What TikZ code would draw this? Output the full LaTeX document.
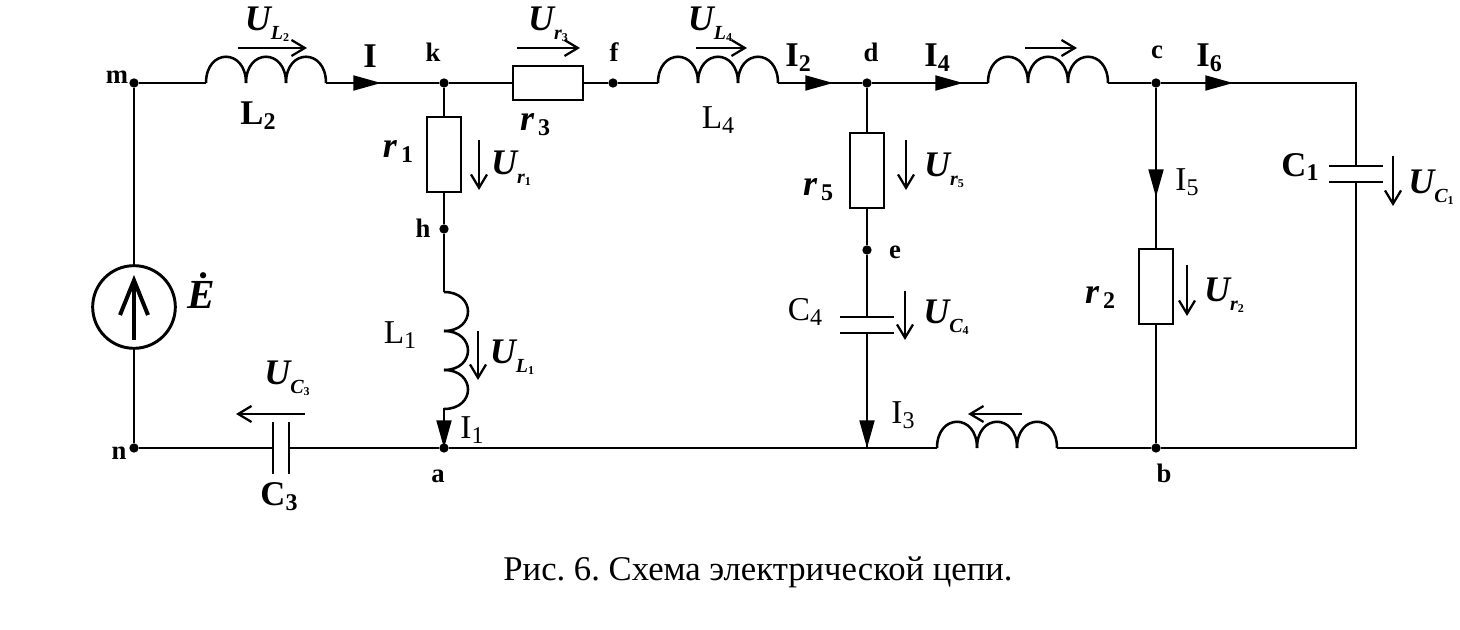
\documentclass[tikz,border=0pt]{standalone}
\usepackage{fontspec}
\setmainfont{Liberation Serif}
\usetikzlibrary{arrows.meta}
\tikzstyle{circuit} = [x = .75pt, y = -.75pt]
\tikzstyle{wireLine} = [color=black, line width=2.2pt]
\tikzstyle{coilLine} = [color=black, line width=1.9pt]
\tikzstyle{plateLine} = [color=black, line width=2.1pt]
\tikzstyle{currentLine} = [wireLine, -{Triangle[length=21pt, width=11pt]}, shorten >=-1pt]
\tikzstyle{voltageLine} = [color=black, line width=1.7pt, -{Straight Barb[length=10pt, width=12pt, line width=1.7pt]}]
\tikzstyle{sourceLine} = [color=black, line width=3pt, -{Straight Barb[length=26pt, width=21pt, line width=3pt]}]
\tikzstyle{resistorH} = [draw, coilLine, fill=white, minimum width=52.5pt, minimum height=25.5pt, inner sep=0pt]
\tikzstyle{resistorV} = [draw, coilLine, fill=white, minimum width=25.5pt, minimum height=56pt, inner sep=0pt]
\tikzstyle{sourceCircle} = [draw, circle, wireLine, minimum size=62pt, inner sep=0pt]
\tikzstyle{junction} = [circle, fill=black, minimum size=7pt, inner sep=0pt]
\tikzstyle{pointText} = [inner sep=0pt, font=\fontsize{20}{20}\selectfont\bfseries]
\tikzstyle{partText} = [inner sep=0pt, font=\fontsize{25}{25}\selectfont]
\tikzstyle{boldPartText} = [inner sep=0pt, font=\fontsize{26}{26}\selectfont\bfseries]
\tikzstyle{voltText} = [inner sep=0pt, font=\fontsize{27}{27}\selectfont\bfseries\itshape]
\tikzstyle{emfText} = [inner sep=0pt, font=\fontsize{31}{31}\selectfont\bfseries\itshape]
\tikzstyle{captionText} = [inner sep=0pt, font=\fontsize{26}{26}\selectfont]
\newcommand{\voltLabel}[2]{U\raisebox{-.55ex}{\fontsize{15}{15}\selectfont #1\raisebox{-.25ex}{\fontsize{9}{9}\selectfont\upshape #2}}}
\newcommand{\partSub}[2]{#1\raisebox{-.3ex}{\fontsize{18}{18}\selectfont #2}}
\newcommand{\horizontalCoil}[3]{
  \coordinate (#1In) at (#2,#3);
  \coordinate (#1Out) at (#2 + 120,#3);
  \foreach \turn in {0,1,2} {
    \pgfmathsetmacro{\var}{#2 + 40 * \turn}
    \draw [coilLine] (\var,#3) .. controls (\var,#3 - 35) and (\var + 40,#3 - 35) .. (\var + 40,#3);
  }
}
\newcommand{\verticalCoil}[3]{
  \coordinate (#1In) at (#2,#3);
  \coordinate (#1Out) at (#2,#3 + 117);
  \foreach \turn in {0,1,2} {
    \pgfmathsetmacro{\var}{#3 + 39 * \turn}
    \draw [coilLine] (#2,\var) .. controls (#2 + 32,\var) and (#2 + 32,\var + 39) .. (#2,\var + 39);
  }
}
\newcommand{\verticalCap}[3]{
  \coordinate (#1Top) at (#2,#3 - 8);
  \coordinate (#1Bottom) at (#2,#3 + 8);
  \draw [plateLine] (#2 - 27,#3 - 8) -- (#2 + 27,#3 - 8);
  \draw [plateLine] (#2 - 27,#3 + 8) -- (#2 + 27,#3 + 8);
}
\newcommand{\horizontalCap}[3]{
  \coordinate (#1Left) at (#2 - 8,#3);
  \coordinate (#1Right) at (#2 + 8,#3);
  \draw [plateLine] (#2 - 8,#3 - 26) -- (#2 - 8,#3 + 26);
  \draw [plateLine] (#2 + 8,#3 - 26) -- (#2 + 8,#3 + 26);
}
\newcommand{\voltageArrow}[5]{
  \coordinate (#1Start) at (#2,#3);
  \coordinate (#1End) at (#4,#5);
  \draw [voltageLine] (#1Start) -- (#1End);
}
\newcommand{\currentArrow}[5]{
  \coordinate (#1Start) at (#2,#3);
  \coordinate (#1End) at (#4,#5);
  \draw [currentLine] (#1Start) -- (#1End);
}
\begin{document}
\begin{tikzpicture}[circuit]
  \useasboundingbox (0,0) rectangle (1460,630);

  % nodes of the circuit
  \node [junction] (m) at (134,83) {};
  \node [junction] (n) at (134,448) {};
  \node [junction] (k) at (444,83) {};
  \node [junction] (h) at (444,229) {};
  \node [junction] (a) at (444,448) {};
  \node [junction] (f) at (613,83) {};
  \node [junction] (d) at (867,83) {};
  \node [junction] (e) at (867,250) {};
  \node [junction] (c) at (1156,83) {};
  \node [junction] (b) at (1156,448) {};
  \coordinate (g) at (867,448);
  \coordinate (topRight) at (1356,83);
  \coordinate (bottomRight) at (1356,448);

  % parts
  \horizontalCoil{coilTwo}{206}{83}
  \horizontalCoil{coilFour}{658}{83}
  \horizontalCoil{coilTop}{988}{83}
  \horizontalCoil{coilBottom}{937}{448}
  \verticalCoil{coilOne}{444}{292}
  \node [resistorH] (rThree) at (548,83) {};
  \node [resistorV] (rOne) at (444,154.5) {};
  \node [resistorV] (rFive) at (867,170.5) {};
  \node [resistorV] (rTwo) at (1156,286.5) {};
  \verticalCap{capOne}{1356}{174}
  \verticalCap{capFour}{867}{325}
  \horizontalCap{capThree}{281}{448}
  \node [sourceCircle] (source) at (134,307) {};

  % wires
  \draw [wireLine] (m) -- (coilTwoIn);
  \draw [wireLine] (coilTwoOut) -- (k);
  \draw [wireLine] (k) -- (rThree);
  \draw [wireLine] (rThree) -- (f);
  \draw [wireLine] (f) -- (coilFourIn);
  \draw [wireLine] (coilFourOut) -- (d);
  \draw [wireLine] (d) -- (coilTopIn);
  \draw [wireLine] (coilTopOut) -- (c);
  \draw [wireLine] (c) -- (topRight) -- (capOneTop);
  \draw [wireLine] (capOneBottom) -- (bottomRight) -- (b);
  \draw [wireLine] (b) -- (coilBottomOut);
  \draw [wireLine] (coilBottomIn) -- (g) -- (a);
  \draw [wireLine] (a) -- (capThreeRight);
  \draw [wireLine] (capThreeLeft) -- (n);
  \draw [wireLine] (n) -- (source);
  \draw [wireLine] (source) -- (m);
  \draw [wireLine] (k) -- (rOne);
  \draw [wireLine] (rOne) -- (h);
  \draw [wireLine] (h) -- (coilOneIn);
  \draw [wireLine] (coilOneOut) -- (a);
  \draw [wireLine] (d) -- (rFive);
  \draw [wireLine] (rFive) -- (e);
  \draw [wireLine] (e) -- (capFourTop);
  \draw [wireLine] (capFourBottom) -- (g);
  \draw [wireLine] (c) -- (rTwo);
  \draw [wireLine] (rTwo) -- (b);

  % currents
  \currentArrow{iMain}{352}{83}{380}{83}
  \currentArrow{iTwo}{804}{83}{832}{83}
  \currentArrow{iFour}{933}{83}{962}{83}
  \currentArrow{iSix}{1203}{83}{1232}{83}
  \currentArrow{iFive}{1156}{165}{1156}{196}
  \currentArrow{iOne}{444}{408}{444}{447}
  \currentArrow{iThree}{867}{405}{867}{447}

  % voltages
  \voltageArrow{uLTwo}{238}{48}{307}{48}
  \voltageArrow{uRThree}{517}{48}{580}{48}
  \voltageArrow{uLFour}{696}{48}{747}{48}
  \voltageArrow{uTop}{1025}{48}{1077}{48}
  \voltageArrow{uROne}{479}{140}{479}{190}
  \voltageArrow{uRFive}{906}{140}{906}{190}
  \voltageArrow{uRTwo}{1187}{265}{1187}{316}
  \voltageArrow{uCOne}{1393}{156}{1393}{206}
  \voltageArrow{uCFour}{905}{291}{905}{340}
  \voltageArrow{uLOne}{478}{331}{478}{380}
  \voltageArrow{uCThree}{305}{414}{236}{414}
  \voltageArrow{uBottom}{1022}{414}{968}{414}
  \coordinate (sourceTail) at (134,340);
  \coordinate (sourceHead) at (134,275);
  \draw [sourceLine] (sourceTail) -- (sourceHead);

  % texts
  \node [pointText] (mText) at (117,77) {m};
  \node [pointText] (nText) at (119,453) {n};
  \node [pointText] (kText) at (433,52) {k};
  \node [pointText] (hText) at (423,228) {h};
  \node [pointText] (aText) at (438,476) {a};
  \node [pointText] (fText) at (614,52) {f};
  \node [pointText] (dText) at (871,52) {d};
  \node [pointText] (eText) at (895,252) {e};
  \node [pointText] (cText) at (1157,52) {c};
  \node [pointText] (bText) at (1164,473) {b};
  \node [boldPartText] (iMainText) at (370,56) {I};
  \node [boldPartText] (iTwoText) at (798,58) {\partSub{I}{2}};
  \node [boldPartText] (iFourText) at (937,58) {\partSub{I}{4}};
  \node [boldPartText] (iSixText) at (1209,58) {\partSub{I}{6}};
  \node [partText] (iFiveText) at (1187,182) {\partSub{I}{5}};
  \node [partText] (iOneText) at (472,430) {\partSub{I}{1}};
  \node [partText] (iThreeText) at (903,415) {\partSub{I}{3}};
  \node [boldPartText] (lTwoText) at (258,116) {\partSub{L}{2}};
  \node [partText] (lFourText) at (718,120) {\partSub{L}{4}};
  \node [partText] (lOneText) at (400,335) {\partSub{L}{1}};
  \node [boldPartText] (cOneText) at (1300,167) {\partSub{C}{1}};
  \node [boldPartText] (cThreeText) at (279,497) {\partSub{C}{3}};
  \node [partText] (cFourText) at (805,312) {\partSub{C}{4}};
  \node [voltText] (rThreeText) at (535,125) {\partSub{r}{\upshape\,3}};
  \node [voltText] (rOneText) at (398,152) {\partSub{r}{\upshape\,1}};
  \node [voltText] (rFiveText) at (818,190) {\partSub{r}{\upshape\,5}};
  \node [voltText] (rTwoText) at (1100,298) {\partSub{r}{\upshape\,2}};
  \node [voltText] (uLTwoText) at (267,24) {\voltLabel{L}{2}};
  \node [voltText] (uRThreeText) at (548,24) {\voltLabel{r}{3}};
  \node [voltText] (uLFourText) at (710,24) {\voltLabel{L}{4}};
  \node [voltText] (uROneText) at (511,168) {\voltLabel{r}{1}};
  \node [voltText] (uRFiveText) at (944,170) {\voltLabel{r}{5}};
  \node [voltText] (uRTwoText) at (1224,295) {\voltLabel{r}{2}};
  \node [voltText] (uCOneText) at (1431,187) {\voltLabel{C}{1}};
  \node [voltText] (uCFourText) at (946,317) {\voltLabel{C}{4}};
  \node [voltText] (uLOneText) at (512,357) {\voltLabel{L}{1}};
  \node [voltText] (uCThreeText) at (287,378) {\voltLabel{C}{3}};
  \node [emfText] (emfLabel) at (201,291) {Ė};
  \node [captionText] (caption) at (758,572) {\frenchspacing Рис. 6. Схема электрической цепи.};
\end{tikzpicture}
\end{document}
